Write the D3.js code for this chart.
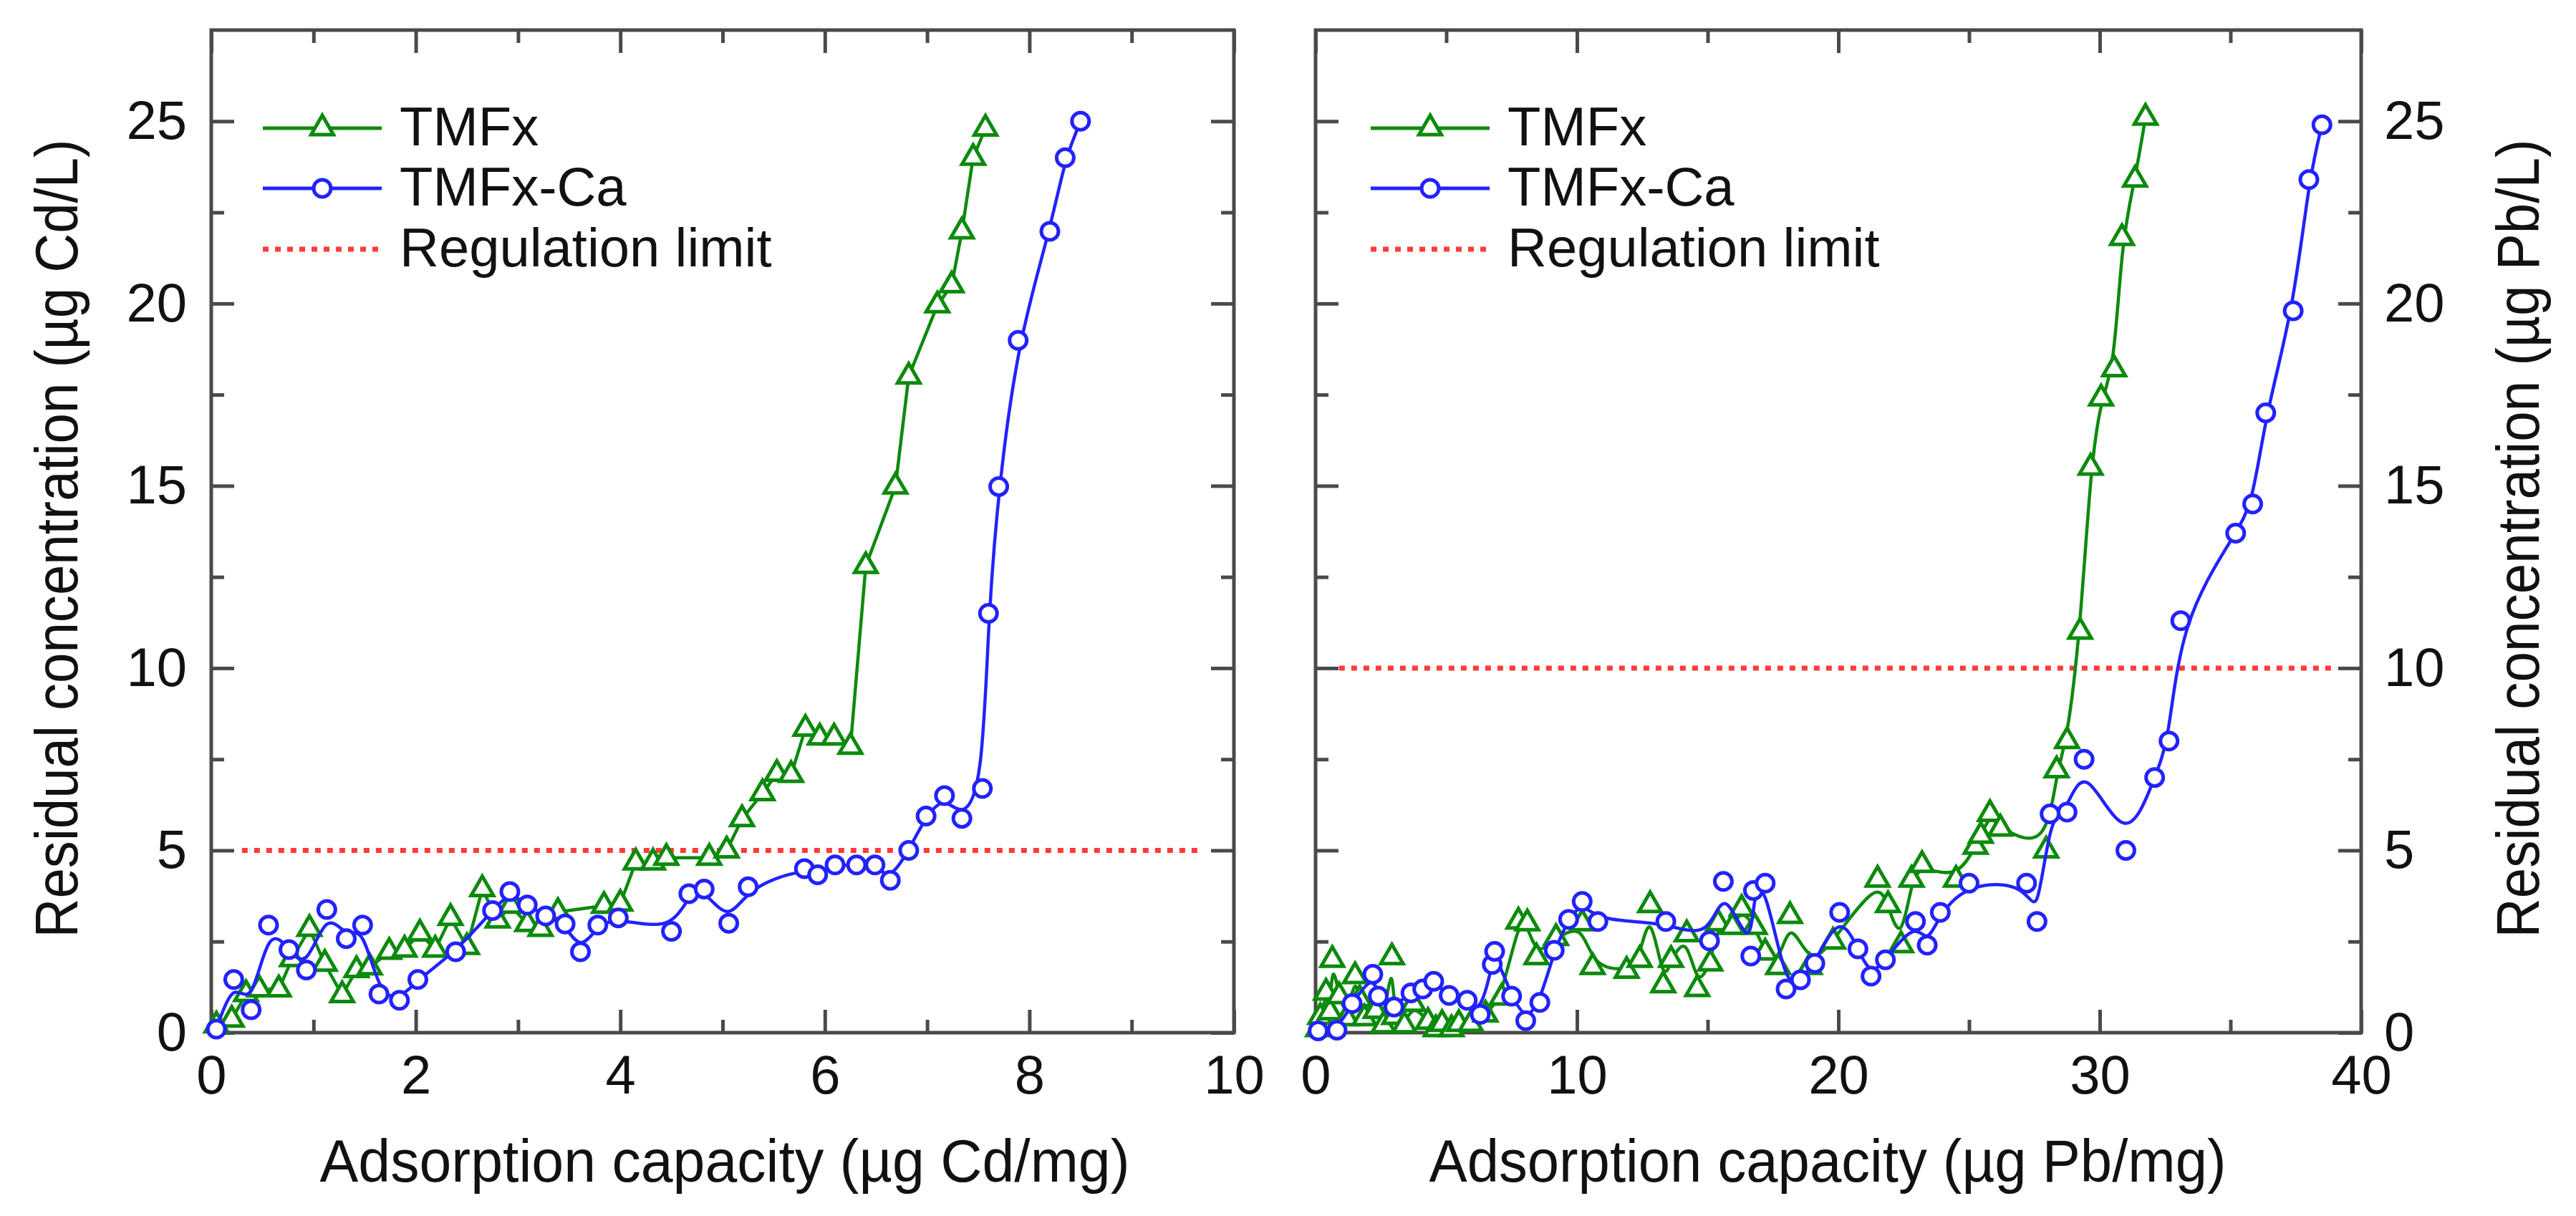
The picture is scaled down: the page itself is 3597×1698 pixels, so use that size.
<!DOCTYPE html>
<html lang="en">
<head>
    <meta charset="UTF-8">
    <title>Residual concentration vs adsorption capacity</title>
    <style>
        body { margin: 0; background: #fff; }
    </style>
</head>
<body>

<div id="chart"></div>

<script src="https://d3js.org/d3.v7.min.js"></script>

<script>
    // ---- data ----
    // Cd panel: [adsorption capacity (ug Cd/mg), residual concentration (ug Cd/L)]
    var cdTmfx = [
        [0.05, 0.2], [0.2, 0.36], [0.34, 1.06], [0.47, 1.19], [0.66, 1.19], [0.79, 2.02],
        [0.96, 2.85], [1.11, 1.89], [1.28, 1.03], [1.42, 1.72], [1.55, 1.79], [1.74, 2.22],
        [1.89, 2.28], [2.04, 2.72], [2.19, 2.28], [2.34, 3.15], [2.5, 2.35], [2.65, 3.94],
        [2.8, 3.08], [2.93, 3.48], [3.09, 2.98], [3.22, 2.85], [3.39, 3.31], [3.84, 3.48],
        [4.0, 3.54], [4.15, 4.67], [4.32, 4.67], [4.45, 4.8], [4.87, 4.8], [5.04, 5.0],
        [5.19, 5.86], [5.39, 6.57], [5.53, 7.1], [5.67, 7.07], [5.81, 8.34], [5.95, 8.1],
        [6.09, 8.1], [6.25, 7.84], [6.4, 12.8], [6.69, 14.98], [6.82, 18.0], [7.1, 19.95],
        [7.24, 20.5], [7.34, 21.98], [7.45, 24.0], [7.57, 24.8]
    ];
    var cdTmfxCa = [
        [0.05, 0.1], [0.22, 1.46], [0.39, 0.63], [0.56, 2.95], [0.76, 2.28], [0.93, 1.72],
        [1.13, 3.38], [1.32, 2.58], [1.48, 2.95], [1.64, 1.06], [1.84, 0.89], [2.02, 1.46],
        [2.39, 2.22], [2.75, 3.35], [2.92, 3.87], [3.09, 3.5], [3.27, 3.2], [3.46, 2.98],
        [3.61, 2.22], [3.78, 2.95], [3.98, 3.15], [4.5, 2.78], [4.67, 3.81], [4.82, 3.94],
        [5.06, 3.0], [5.25, 4.0], [5.8, 4.5], [5.93, 4.33], [6.1, 4.6], [6.31, 4.6],
        [6.49, 4.6], [6.64, 4.18], [6.82, 5.0], [6.99, 5.94], [7.17, 6.5], [7.34, 5.88],
        [7.54, 6.7], [7.6, 11.5], [7.7, 14.98], [7.89, 18.99], [8.2, 21.98], [8.35, 24.0],
        [8.5, 25.0]
    ];
    var cdLimit = [[0.3, 5], [9.65, 5]];

    // Pb panel: [adsorption capacity (ug Pb/mg), residual concentration (ug Pb/L)]
    var pbTmfx = [
        [0.1, 0.1], [0.18, 0.43], [0.4, 1.1], [0.55, 0.56], [0.64, 2.0], [0.9, 1.0],
        [1.19, 0.4], [1.51, 1.55], [1.69, 0.92], [1.87, 0.4], [2.3, 0.6], [2.6, 0.2],
        [2.92, 2.07], [3.01, 0.43], [3.4, 0.2], [3.74, 0.79], [4.3, 0.3], [4.6, 0.1],
        [4.84, 0.24], [5.2, 0.1], [5.48, 0.24], [5.94, 0.24], [6.5, 0.5], [7.12, 0.96],
        [7.76, 3.05], [8.1, 3.0], [8.45, 2.07], [9.2, 2.6], [10.2, 3.0], [10.6, 1.8],
        [11.9, 1.7], [12.4, 2.0], [12.8, 3.5], [13.3, 1.3], [13.6, 2.0], [14.2, 2.7],
        [14.6, 1.2], [15.1, 1.9], [15.4, 3.0], [15.95, 2.9], [16.3, 3.4], [16.8, 2.9],
        [17.2, 2.2], [17.7, 1.8], [18.15, 3.2], [18.9, 1.8], [19.8, 2.5], [21.5, 4.2],
        [21.9, 3.5], [22.4, 2.4], [22.8, 4.2], [23.2, 4.6], [24.5, 4.2], [25.25, 5.1],
        [25.45, 5.4], [25.8, 6.0], [26.2, 5.6], [27.95, 5.0], [28.35, 7.2], [28.75, 8.0],
        [29.25, 11.0], [29.65, 15.5], [30.05, 17.4], [30.55, 18.2], [30.85, 21.8],
        [31.35, 23.4], [31.75, 25.1]
    ];
    var pbTmfxCa = [
        [0.1, 0.05], [0.82, 0.07], [1.4, 0.8], [2.19, 1.6], [2.4, 1.0], [3.0, 0.7],
        [3.65, 1.09], [4.1, 1.2], [4.52, 1.41], [5.11, 1.02], [5.8, 0.89], [6.3, 0.5],
        [6.76, 1.87], [6.85, 2.23], [7.5, 1.0], [8.04, 0.33], [8.58, 0.83], [9.13, 2.26],
        [9.68, 3.11], [10.2, 3.6], [10.8, 3.05], [13.4, 3.05], [15.07, 2.52], [15.6, 4.15],
        [16.65, 2.1], [16.75, 3.9], [17.2, 4.1], [18.0, 1.2], [18.55, 1.45], [19.1, 1.9],
        [20.05, 3.3], [20.75, 2.3], [21.25, 1.55], [21.8, 2.0], [22.95, 3.05], [23.4, 2.4],
        [23.9, 3.3], [25.0, 4.1], [27.2, 4.1], [27.6, 3.05], [28.1, 6.0], [28.75, 6.05],
        [29.4, 7.5], [31.0, 5.0], [32.1, 7.0], [32.65, 8.0], [33.1, 11.3], [35.2, 13.7],
        [35.85, 14.5], [36.35, 17.0], [37.4, 19.8], [38.0, 23.4], [38.5, 24.9]
    ];
    var pbLimit = [[0.9, 10], [39.1, 10]];

    // ticks and labels
    var yTicks = [0, 5, 10, 15, 20, 25];
    var yMinor = [2.5, 7.5, 12.5, 17.5, 22.5];
    var cdXTicks = [0, 2, 4, 6, 8, 10];
    var cdXMinor = [1, 3, 5, 7, 9];
    var pbXTicks = [0, 10, 20, 30, 40];
    var pbXMinor = [5, 15, 25, 35];
    var legendNames = ["TMFx", "TMFx-Ca", "Regulation limit"];

    // ---- layout ----
    var W = 3597, H = 1698;
    var font = "'Liberation Sans', Arial, Helvetica, sans-serif";
    var green = "#0c8a0c", blue = "#2222ff", red = "#ff3b3b", frame = "#4a4a4a";

    var svg = d3.select("#chart").append("svg")
        .attr("width", W)
        .attr("height", H)
        .style("display", "block");

    var y = d3.scaleLinear().domain([0, 27.5]).range([1442, 42]);

    // draw one ticks set (inward) on a side
    function ticks(g, axis, tr, size) {
        var a = g.append("g")
            .attr("transform", tr)
            .call(axis.tickSizeInner(size).tickSizeOuter(0));
        a.select(".domain").remove();
        a.selectAll("line").attr("stroke", frame).attr("stroke-width", 5);
        a.attr("font-size", 76).attr("font-family", font);
        a.selectAll("text").attr("fill", "#111");
        return a;
    }

    function drawPanel(p) {
        var x = d3.scaleLinear().domain(p.xDomain).range([p.left, p.right]);
        var g = svg.append("g");

        // minor ticks on all four sides
        ticks(g, d3.axisBottom(x).tickValues(p.xMinor).tickFormat(""), "translate(0," + y(0) + ")", -18);
        ticks(g, d3.axisTop(x).tickValues(p.xMinor).tickFormat(""), "translate(0," + y.range()[1] + ")", -18);
        ticks(g, d3.axisLeft(y).tickValues(yMinor).tickFormat(""), "translate(" + p.left + ",0)", -18);
        ticks(g, d3.axisRight(y).tickValues(yMinor).tickFormat(""), "translate(" + p.right + ",0)", -18);

        // major ticks, labels on bottom and on the labelled y side
        ticks(g, d3.axisBottom(x).tickValues(p.xTicks).tickFormat(d3.format("d")).tickPadding(31),
            "translate(0," + y(0) + ")", -32);
        ticks(g, d3.axisTop(x).tickValues(p.xTicks).tickFormat(""), "translate(0," + y.range()[1] + ")", -32);
        ticks(g, d3.axisLeft(y).tickValues(yTicks).tickFormat(p.ySide === "left" ? d3.format("d") : "").tickPadding(34),
            "translate(" + p.left + ",0)", -32);
        ticks(g, d3.axisRight(y).tickValues(yTicks).tickFormat(p.ySide === "right" ? d3.format("d") : "").tickPadding(32),
            "translate(" + p.right + ",0)", -32);

        // frame
        g.append("rect")
            .attr("x", p.left).attr("y", y.range()[1])
            .attr("width", p.right - p.left).attr("height", y(0) - y.range()[1])
            .attr("fill", "none").attr("stroke", frame).attr("stroke-width", 5);

        // regulation limit
        g.append("path")
            .attr("d", d3.line().x(d => x(d[0])).y(d => y(d[1]))(p.limit))
            .attr("fill", "none").attr("stroke", red).attr("stroke-width", 7)
            .attr("stroke-dasharray", "8 9");

        // series
        var tri = d3.symbol().type(d3.symbolTriangle).size(420);
        p.series.forEach(function (s) {
            g.append("path")
                .attr("d", d3.line().x(d => x(d[0])).y(d => y(d[1])).curve(s.curve)(s.data))
                .attr("fill", "none").attr("stroke", s.color).attr("stroke-width", 4.5);
            if (s.marker === "tri") {
                g.selectAll(null).data(s.data).enter().append("path")
                    .attr("d", tri)
                    .attr("transform", d => "translate(" + x(d[0]) + "," + y(d[1]) + ")")
                    .attr("fill", "#fff").attr("stroke", s.color).attr("stroke-width", 5);
            } else {
                g.selectAll(null).data(s.data).enter().append("circle")
                    .attr("cx", d => x(d[0])).attr("cy", d => y(d[1])).attr("r", 12)
                    .attr("fill", "#fff").attr("stroke", s.color).attr("stroke-width", 5);
            }
        });

        // legend
        var lg = g.append("g").attr("transform", "translate(" + p.legendX + ",0)");
        var rows = [179, 263, 348];
        [[green, "tri"], [blue, "circ"], [red, "dot"]].forEach(function (r, i) {
            var ly = rows[i];
            lg.append("line")
                .attr("x1", 0).attr("x2", 166).attr("y1", ly).attr("y2", ly)
                .attr("stroke", r[0]).attr("stroke-width", r[1] === "dot" ? 7 : 5)
                .attr("stroke-dasharray", r[1] === "dot" ? "8 9" : null);
            if (r[1] === "tri") {
                lg.append("path").attr("d", tri).attr("transform", "translate(83," + ly + ")")
                    .attr("fill", "#fff").attr("stroke", r[0]).attr("stroke-width", 5);
            } else if (r[1] === "circ") {
                lg.append("circle").attr("cx", 83).attr("cy", ly).attr("r", 12)
                    .attr("fill", "#fff").attr("stroke", r[0]).attr("stroke-width", 5);
            }
            lg.append("text")
                .attr("x", 191).attr("y", ly + 24)
                .attr("font-family", font).attr("font-size", 76).attr("fill", "#111")
                .text(legendNames[i]);
        });

        // axis titles
        g.append("text")
            .attr("x", (p.left + p.right) / 2 + p.titleShift).attr("y", 1650)
            .attr("text-anchor", "middle")
            .attr("font-family", font).attr("font-size", 84).attr("fill", "#111")
            .attr("textLength", p.xTitleLen).attr("lengthAdjust", "spacingAndGlyphs")
            .text(p.xTitle);
        g.append("text")
            .attr("transform", "translate(" + p.yTitleX + ",752) rotate(-90)")
            .attr("text-anchor", "middle")
            .attr("font-family", font).attr("font-size", 84).attr("fill", "#111")
            .attr("textLength", 1115).attr("lengthAdjust", "spacingAndGlyphs")
            .text(p.yTitle);
    }

    drawPanel({
        left: 295, right: 1723, xDomain: [0, 10],
        xTicks: cdXTicks, xMinor: cdXMinor, ySide: "left",
        limit: cdLimit, legendX: 367, titleShift: 3, xTitleLen: 1131, yTitleX: 108,
        xTitle: "Adsorption capacity (\u00b5g Cd/mg)",
        yTitle: "Residual concentration (\u00b5g Cd/L)",
        series: [
            {data: cdTmfx, color: green, marker: "tri", curve: d3.curveLinear},
            {data: cdTmfxCa, color: blue, marker: "circ", curve: d3.curveBasis}
        ]
    });

    drawPanel({
        left: 1837, right: 3297, xDomain: [0, 40],
        xTicks: pbXTicks, xMinor: pbXMinor, ySide: "right",
        limit: pbLimit, legendX: 1914, titleShift: -15, xTitleLen: 1113, yTitleX: 3545,
        xTitle: "Adsorption capacity (\u00b5g Pb/mg)",
        yTitle: "Residual concentration (\u00b5g Pb/L)",
        series: [
            {data: pbTmfx, color: green, marker: "tri", curve: d3.curveBasis},
            {data: pbTmfxCa, color: blue, marker: "circ", curve: d3.curveBasis}
        ]
    });
</script>
</body>
</html>
